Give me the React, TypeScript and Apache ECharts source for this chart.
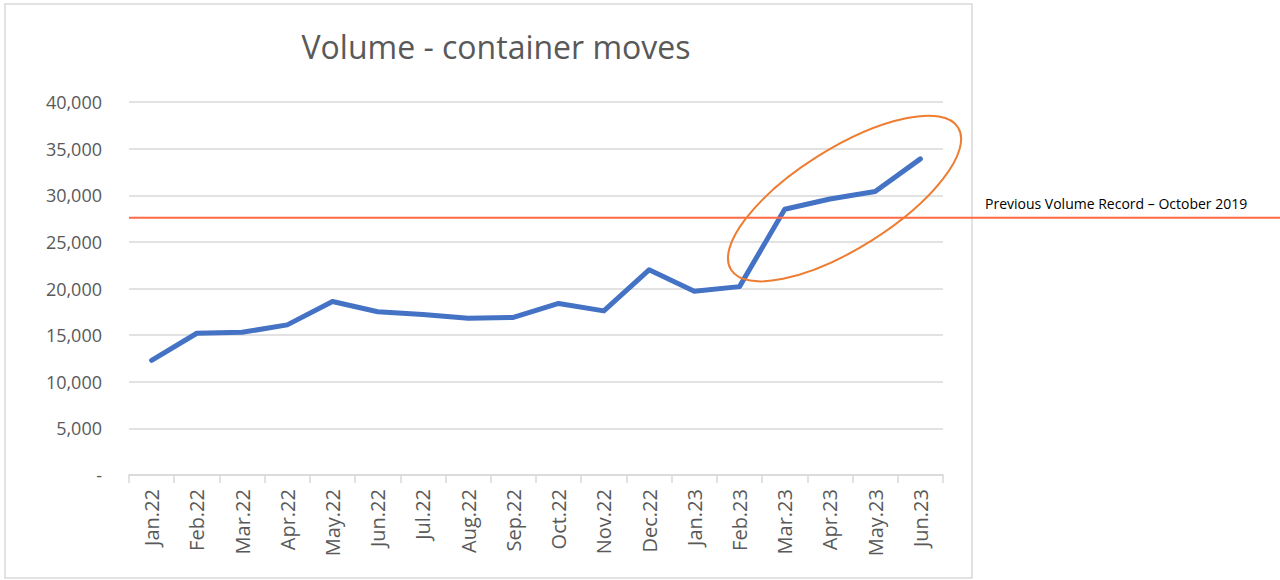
import React, { useEffect, useRef } from "react";
import * as echarts from "echarts";

const categories = [
  "Jan.22", "Feb.22", "Mar.22", "Apr.22", "May.22", "Jun.22", "Jul.22", "Aug.22", "Sep.22",
  "Oct.22", "Nov.22", "Dec.22", "Jan.23", "Feb.23", "Mar.23", "Apr.23", "May.23", "Jun.23",
];
const volumes = [
  12300, 15200, 15300, 16100, 18600, 17500, 17200, 16800, 16900,
  18400, 17600, 22000, 19700, 20200, 28500, 29600, 30400, 33900,
];
const yTicks = [0, 5000, 10000, 15000, 20000, 25000, 30000, 35000, 40000];
const recordValue = 27600;
const recordLabel = "Previous Volume Record \u2013 October 2019";
const titleText = "Volume - container moves";

export default function App() {
  const ref = useRef<HTMLDivElement>(null);
  useEffect(() => {
    document.body.style.margin = "0";
    const chart = echarts.init(ref.current!, null, { renderer: "svg" });
    const font = "'Open Sans', 'Liberation Sans', sans-serif";
    chart.setOption({
      animation: false,
      backgroundColor: "#ffffff",
      title: {
        text: titleText,
        left: 491,
        top: 25,
        textAlign: "center",
        textStyle: { fontFamily: font, fontSize: 32, fontWeight: "normal", color: "#595959" },
      },
      grid: { left: 129, right: 337, top: 102, bottom: 105, containLabel: false },
      xAxis: {
        type: "category",
        data: categories,
        boundaryGap: true,
        axisLine: { lineStyle: { color: "#d9d9d9", width: 1.5 } },
        axisTick: { show: true, length: 8, lineStyle: { color: "#d9d9d9", width: 1.5 } },
        axisLabel: { rotate: 90, margin: 14, fontFamily: font, fontSize: 20, color: "#595959", interval: 0 },
        splitLine: { show: false },
      },
      yAxis: {
        type: "value",
        min: yTicks[0],
        max: yTicks[yTicks.length - 1],
        interval: yTicks[1] - yTicks[0],
        axisLine: { show: false },
        axisTick: { show: false },
        axisLabel: {
          margin: 27,
          fontFamily: font,
          fontSize: 18,
          color: "#595959",
          formatter: (v: number) => (v === 0 ? "-" : v.toLocaleString("en-US")),
        },
        splitLine: { lineStyle: { color: "#d9d9d9", width: 1.5 } },
      },
      series: [
        {
          type: "line",
          data: volumes,
          symbol: "none",
          lineStyle: { color: "#4472C4", width: 5, cap: "round", join: "round" },
          z: 3,
        },
      ],
    });

    const yRec = chart.convertToPixel({ yAxisIndex: 0 }, recordValue) as number;
    const pMar = chart.convertToPixel({ xAxisIndex: 0, yAxisIndex: 0 }, [14, volumes[14]]) as number[];
    const pJun = chart.convertToPixel({ xAxisIndex: 0, yAxisIndex: 0 }, [17, volumes[17]]) as number[];
    const cx = (pMar[0] + pJun[0]) / 2 - 8;
    const cy = (pMar[1] + pJun[1]) / 2 + 14.5;

    chart.setOption({
      graphic: [
        {
          type: "rect",
          shape: { x: 5, y: 4, width: 967, height: 574 },
          style: { fill: "none", stroke: "#d9d9d9", lineWidth: 1.5 },
          z: 0,
          silent: true,
        },
        {
          type: "line",
          shape: { x1: 129, y1: yRec, x2: 1280, y2: yRec },
          style: { stroke: "#FF6A45", lineWidth: 2 },
          z: 10,
          silent: true,
        },
        {
          type: "text",
          x: 985,
          y: yRec - 14,
          style: {
            text: recordLabel,
            fontFamily: font,
            fontSize: 14,
            fill: "#000000",
            verticalAlign: "middle",
            align: "left",
          },
          z: 10,
        },
        {
          type: "ellipse",
          x: cx,
          y: cy,
          rotation: 0.56,
          shape: { cx: 0, cy: 0, rx: 134, ry: 50 },
          style: { fill: "none", stroke: "#ED7D31", lineWidth: 2 },
          z: 10,
          silent: true,
        },
      ],
    });
    return () => chart.dispose();
  }, []);
  return <div ref={ref} style={{ width: 1280, height: 580 }} />;
}
